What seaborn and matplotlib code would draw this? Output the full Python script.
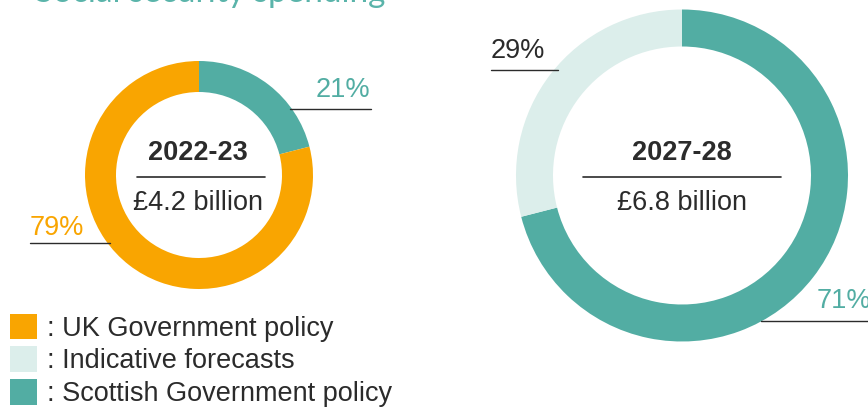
import matplotlib
matplotlib.use("Agg")
import matplotlib.pyplot as plt
import seaborn as sns
from matplotlib.patches import Patch

# data
categories = ["UK Government policy", "Indicative forecasts", "Scottish Government policy"]
years = ["2022-23", "2027-28"]
totals = ["£4.2 billion", "£6.8 billion"]
# shares, clockwise from 12 o'clock
shares_2223 = [21, 79]      # Scottish Gov, UK Gov
shares_2728 = [71, 29]      # Scottish Gov, Indicative

orange = "#F9A501"
light = "#DCEEEB"
teal = "#52ADA3"
text_col = "#2B2B2B"

sns.set_theme(style="white")
plt.rcParams["font.family"] = ["Liberation Sans", "DejaVu Sans"]

W, H = 868, 407
fig = plt.figure(figsize=(W / 100, H / 100), dpi=100)
ax = fig.add_axes([0, 0, 1, 1])

def py(y):
    # pixel row -> data y
    return H - y

fs = 19.5

# left donut
ax.pie(shares_2223, colors=[teal, orange], startangle=90, counterclock=False,
       center=(199, py(175)), radius=114,
       wedgeprops=dict(width=31, linewidth=0))
# right donut
ax.pie(shares_2728, colors=[teal, light], startangle=90, counterclock=False,
       center=(682, py(175.5)), radius=166,
       wedgeprops=dict(width=37, linewidth=0))

ax.set_xlim(0, W)
ax.set_ylim(0, H)
ax.axis("off")

# centre texts
for cx, x0, x1, yr, tot in [(198, 137, 265, years[0], totals[0]),
                            (682, 583, 781, years[1], totals[1])]:
    ax.text(cx, py(160), yr, ha="center", va="baseline", fontsize=fs,
            fontweight="bold", color=text_col)
    ax.plot([x0, x1], [py(177), py(177)], color=text_col, lw=1.2)
    ax.text(cx, py(210.5), tot, ha="center", va="baseline", fontsize=fs,
            color=text_col)

# percentage labels with leader lines
ax.text(370, py(97), f"{shares_2223[0]}%", ha="right", va="baseline",
        fontsize=fs, color=teal)
ax.plot([290, 371], [py(109), py(109)], color=text_col, lw=1)
ax.text(30, py(235), f"{shares_2223[1]}%", ha="left", va="baseline",
        fontsize=fs, color=orange)
ax.plot([30, 110], [py(243), py(243)], color=text_col, lw=1)
ax.text(491, py(58), f"{shares_2728[1]}%", ha="left", va="baseline",
        fontsize=fs, color=text_col)
ax.plot([491, 558], [py(70), py(70)], color=text_col, lw=1)
ax.text(817, py(308), f"{shares_2728[0]}%", ha="left", va="baseline",
        fontsize=fs, color=teal)
ax.plot([761, 868], [py(321), py(321)], color=text_col, lw=1)

# cropped title at the top
ax.text(385, py(2.5), "Social security spending", ha="right", va="baseline",
        fontsize=24, color="#5AB4AA", family=["Lato", "DejaVu Sans"])

# legend
handles = [Patch(facecolor=c, edgecolor="none") for c in [orange, light, teal]]
ax.legend(handles, [": " + c for c in categories], loc="lower left",
          bbox_to_anchor=(10 / W, 0), frameon=False, fontsize=fs,
          handlelength=1.0, handleheight=1.07, handletextpad=0.35,
          labelspacing=0.17, borderpad=0, borderaxespad=0,
          labelcolor=text_col)

fig.savefig("out.png", dpi=100)
